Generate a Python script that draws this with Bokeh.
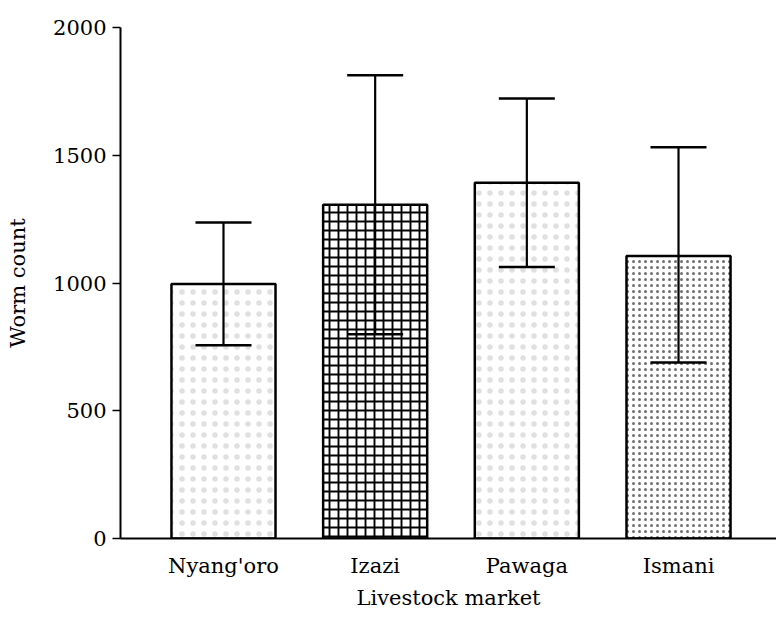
from bokeh.plotting import figure
from bokeh.models import ColumnDataSource, FixedTicker, Range1d, Whisker, TeeHead
from bokeh.embed import file_html
from bokeh.resources import INLINE

markets = ["Nyang'oro", "Izazi", "Pawaga", "Ismani"]
positions = [1, 2, 3, 4]
means = [996, 1306, 1392, 1106]
upper = [1237, 1813, 1722, 1531]
lower = [756, 799, 1063, 689]
y_ticks = [0, 500, 1000, 1500, 2000]

hatch_patterns = ["dot", "cross", "dot", "dot"]
hatch_scales = [11, 9, 11, 6]
hatch_colors = ["#e0e0e0", "#000000", "#e0e0e0", "#707070"]
hatch_weights = [1.0, 1.9, 1.0, 1.0]

FONT = "DejaVu Serif"

src = ColumnDataSource(dict(x=positions, top=means, upper=upper, lower=lower,
                            hp=hatch_patterns, hs=hatch_scales, hc=hatch_colors, hw=hatch_weights))

p = figure(frame_width=656, frame_height=511, output_backend="svg", toolbar_location=None,
           x_range=Range1d(0.321, 4.646), y_range=Range1d(0, 2000),
           min_border_left=120, min_border_right=0, min_border_top=27, min_border_bottom=74)

p.vbar(x="x", top="top", bottom=0, width=0.686, source=src,
       fill_color="white", line_color="black", line_width=2.5,
       hatch_pattern="hp", hatch_scale="hs", hatch_color="hc", hatch_weight="hw")

w = Whisker(base="x", upper="upper", lower="lower", source=src, level="overlay",
            line_color="black", line_width=2.2,
            upper_head=TeeHead(size=56, line_color="black", line_width=2.5),
            lower_head=TeeHead(size=56, line_color="black", line_width=2.5))
p.add_layout(w)

p.grid.visible = False
p.outline_line_color = None
p.background_fill_color = "white"
p.border_fill_color = "white"

xa = p.xaxis[0]
xa.ticker = FixedTicker(ticks=positions)
xa.major_label_overrides = {pos: m for pos, m in zip(positions, markets)}
xa.major_tick_line_color = None
xa.minor_tick_line_color = None
xa.major_tick_out = 0
xa.major_label_standoff = 15
xa.axis_line_width = 2
xa.major_label_text_font = FONT
xa.major_label_text_font_size = "21px"
xa.major_label_text_color = "black"
xa.axis_label = "Livestock market"
xa.axis_label_text_font = FONT
xa.axis_label_text_font_size = "21px"
xa.axis_label_text_font_style = "normal"
xa.axis_label_text_color = "black"
xa.axis_label_standoff = 5

ya = p.yaxis[0]
ya.ticker = FixedTicker(ticks=y_ticks)
ya.minor_tick_line_color = None
ya.major_tick_out = 8
ya.major_tick_in = 0
ya.major_tick_line_width = 1.5
ya.axis_line_width = 2
ya.major_label_standoff = 6
ya.major_label_text_font = FONT
ya.major_label_text_font_size = "21px"
ya.major_label_text_color = "black"
ya.axis_label = "Worm count"
ya.axis_label_text_font = FONT
ya.axis_label_text_font_size = "21px"
ya.axis_label_text_font_style = "normal"
ya.axis_label_text_color = "black"
ya.axis_label_standoff = 20

open("out.html", "w").write(file_html(p, INLINE))
